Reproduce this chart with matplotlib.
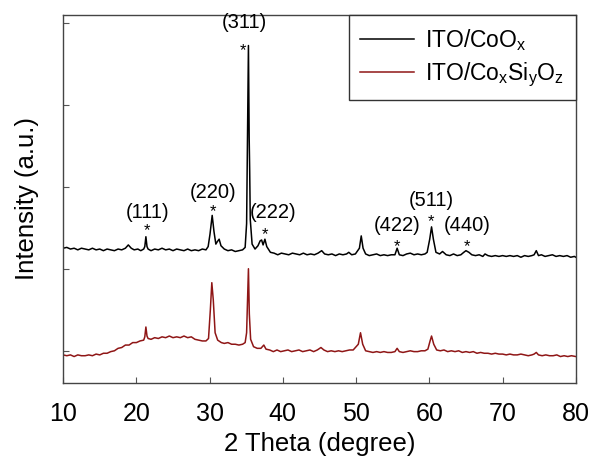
import matplotlib
matplotlib.use("Agg")
import matplotlib.pyplot as plt

plt.rcParams['font.family'] = ['Liberation Sans', 'DejaVu Sans']
plt.rcParams['mathtext.fontset'] = 'custom'
plt.rcParams['mathtext.rm'] = 'Liberation Sans'

# ITO/CoOx trace: (2theta, intensity a.u.)
coo_points = [
    (10, 1.25), (10.5, 1.26), (11, 1.24), (11.5, 1.25), (12, 1.23), (12.5, 1.25), (13, 1.24), (13.5, 1.23),
    (14, 1.25), (14.5, 1.23), (15, 1.24), (15.5, 1.22), (16, 1.24), (16.5, 1.23), (17, 1.22), (17.5, 1.24),
    (18, 1.23), (18.5, 1.25), (18.9, 1.29), (19.3, 1.25), (19.7, 1.23), (20.2, 1.24), (20.6, 1.22), (21.0, 1.24),
    (21.15, 1.27), (21.3, 1.39), (21.45, 1.27), (21.6, 1.24), (22, 1.22), (22.5, 1.24), (23, 1.23), (23.5, 1.25),
    (24, 1.23), (24.5, 1.24), (25, 1.22), (25.5, 1.24), (26, 1.23), (26.5, 1.22), (27, 1.24), (27.5, 1.22),
    (28, 1.23), (28.5, 1.22), (29, 1.24), (29.5, 1.23), (29.8, 1.27), (30.05, 1.42), (30.35, 1.65), (30.6, 1.45),
    (30.85, 1.30), (31.05, 1.33), (31.3, 1.36), (31.55, 1.28), (32, 1.24), (32.5, 1.22), (33, 1.23), (33.5, 1.21),
    (34, 1.22), (34.5, 1.23), (34.85, 1.26), (35.05, 1.55), (35.2, 2.9), (35.3, 3.72), (35.4, 2.6), (35.47, 2.2),
    (35.55, 1.6), (35.8, 1.30), (36.2, 1.24), (36.6, 1.28), (36.9, 1.34), (37.1, 1.35), (37.3, 1.29), (37.55, 1.36),
    (37.8, 1.27), (38.3, 1.20), (38.8, 1.19), (39.3, 1.17), (39.8, 1.19), (40.3, 1.18), (40.8, 1.17), (41.3, 1.19),
    (41.8, 1.18), (42.3, 1.17), (42.8, 1.19), (43.3, 1.17), (43.8, 1.18), (44.3, 1.17), (44.8, 1.19), (45.3, 1.22),
    (45.7, 1.18), (46.2, 1.17), (46.7, 1.18), (47.2, 1.16), (47.7, 1.18), (48.2, 1.17), (48.7, 1.18), (49.0, 1.20),
    (49.4, 1.17), (49.9, 1.18), (50.45, 1.25), (50.7, 1.40), (50.95, 1.25), (51.3, 1.18), (51.8, 1.16), (52.3, 1.17),
    (52.8, 1.18), (53.3, 1.16), (53.8, 1.17), (54.3, 1.16), (54.8, 1.17), (55.3, 1.17), (55.6, 1.25), (55.9, 1.17),
    (56.4, 1.16), (56.9, 1.18), (57.4, 1.19), (57.9, 1.17), (58.4, 1.18), (58.9, 1.17), (59.4, 1.18), (59.7, 1.20),
    (60.05, 1.36), (60.3, 1.51), (60.55, 1.36), (60.9, 1.20), (61.4, 1.18), (61.8, 1.21), (62.3, 1.17), (62.8, 1.16),
    (63.3, 1.18), (63.8, 1.16), (64.3, 1.17), (64.7, 1.20), (65.0, 1.22), (65.4, 1.20), (65.8, 1.17), (66.3, 1.16),
    (66.8, 1.17), (67.3, 1.15), (67.6, 1.18), (68, 1.16), (68.5, 1.15), (69, 1.16), (69.5, 1.15), (70, 1.16),
    (70.5, 1.15), (71, 1.16), (71.5, 1.15), (72, 1.16), (72.5, 1.14), (73, 1.16), (73.5, 1.15), (74, 1.16),
    (74.3, 1.17), (74.6, 1.22), (74.9, 1.16), (75.3, 1.17), (75.8, 1.15), (76.3, 1.16), (76.8, 1.17), (77.3, 1.15),
    (77.8, 1.16), (78.3, 1.15), (78.8, 1.16), (79.3, 1.14), (79.8, 1.15), (80, 1.14),
]

# ITO/CoxSiyOz trace: (2theta, intensity a.u.)
cosio_points = [
    (10, -0.05), (10.5, -0.06), (11, -0.05), (11.5, -0.07), (12, -0.05), (12.5, -0.06), (13, -0.06), (13.5, -0.05),
    (14, -0.06), (14.5, -0.04), (15, -0.05), (15.5, -0.03), (16, -0.03), (16.5, -0.01), (17, 0.00), (17.5, 0.03),
    (18, 0.04), (18.5, 0.07), (19, 0.07), (19.5, 0.10), (20, 0.10), (20.5, 0.12), (21, 0.13), (21.15, 0.17),
    (21.3, 0.29), (21.45, 0.18), (21.6, 0.15), (22, 0.14), (22.5, 0.16), (23, 0.15), (23.5, 0.17), (24, 0.16),
    (24.5, 0.18), (25, 0.16), (25.5, 0.17), (26, 0.16), (26.5, 0.18), (27, 0.16), (27.5, 0.17), (28, 0.14),
    (28.5, 0.13), (29, 0.12), (29.5, 0.12), (29.85, 0.15), (30.1, 0.50), (30.3, 0.83), (30.5, 0.62), (30.75, 0.22),
    (31.1, 0.13), (31.6, 0.10), (32, 0.09), (32.5, 0.10), (33, 0.08), (33.5, 0.08), (34, 0.07), (34.5, 0.08),
    (34.85, 0.10), (35.05, 0.22), (35.2, 0.70), (35.3, 1.00), (35.42, 0.45), (35.6, 0.14), (36, 0.05), (36.5, 0.03),
    (37, 0.03), (37.4, 0.07), (37.7, 0.02), (38.2, 0.01), (38.7, -0.01), (39.2, 0.01), (39.7, -0.01), (40.2, 0.00),
    (40.7, 0.01), (41.2, -0.01), (41.7, 0.00), (42.2, 0.01), (42.7, -0.01), (43.2, 0.00), (43.7, 0.01), (44.2, -0.01),
    (44.7, 0.01), (45.2, 0.04), (45.6, 0.01), (46.1, -0.01), (46.6, 0.00), (47.1, -0.01), (47.6, 0.00), (48.1, -0.01),
    (48.6, 0.00), (49.1, 0.01), (49.6, 0.01), (50.3, 0.08), (50.6, 0.22), (50.9, 0.08), (51.3, 0.00), (51.8, -0.01),
    (52.3, -0.02), (52.8, -0.01), (53.3, -0.02), (53.8, -0.01), (54.3, -0.02), (54.8, -0.02), (55.3, -0.01), (55.6, 0.03),
    (55.9, -0.01), (56.4, -0.02), (56.9, -0.01), (57.4, 0.00), (57.9, -0.01), (58.4, -0.01), (58.9, 0.00), (59.4, 0.00),
    (59.8, 0.02), (60.1, 0.12), (60.3, 0.18), (60.6, 0.08), (61, 0.01), (61.5, 0.00), (62, 0.01), (62.5, -0.01),
    (63, 0.00), (63.5, -0.01), (64, 0.00), (64.5, -0.02), (65, -0.01), (65.5, -0.02), (66, -0.01), (66.5, -0.03),
    (67, -0.02), (67.5, -0.03), (68, -0.03), (68.5, -0.04), (69, -0.03), (69.5, -0.04), (70, -0.04), (70.5, -0.05),
    (71, -0.04), (71.5, -0.05), (72, -0.05), (72.5, -0.04), (73, -0.05), (73.5, -0.06), (74, -0.05), (74.3, -0.04),
    (74.6, -0.02), (74.9, -0.05), (75.4, -0.06), (75.9, -0.05), (76.4, -0.06), (76.9, -0.06), (77.4, -0.05), (77.9, -0.07),
    (78.4, -0.06), (78.9, -0.07), (79.4, -0.06), (80, -0.07),
]

coo_x = [p[0] for p in coo_points]
coo_y = [p[1] for p in coo_points]
cosio_x = [p[0] for p in cosio_points]
cosio_y = [p[1] for p in cosio_points]

# peak labels: text, label position, star position
hkl_labels = ['(111)', '(220)', '(311)', '(222)', '(422)', '(511)', '(440)']
label_x = [21.5, 30.5, 34.7, 38.7, 55.6, 60.2, 65.1]
label_y = [1.69, 1.93, 4.0, 1.69, 1.53, 1.83, 1.53]
star_x = [21.5, 30.5, 34.6, 37.6, 55.6, 60.2, 65.1]
star_y = [1.46, 1.70, 3.66, 1.42, 1.27, 1.58, 1.27]

xticks = [10, 20, 30, 40, 50, 60, 70, 80]
yticks = [0, 1, 2, 3, 4]

fig = plt.figure(figsize=(5.9, 4.59), dpi=100)
ax = fig.add_axes([0.107, 0.166, 0.869, 0.801])

ax.plot(coo_x, coo_y, color='black', lw=1.1, label=r'ITO/CoO$_\mathregular{x}$')
ax.plot(cosio_x, cosio_y, color='#8f1616', lw=1.1,
        label=r'ITO/Co$_\mathregular{x}$Si$_\mathregular{y}$O$_\mathregular{z}$')

for t, lx, ly, sx, sy in zip(hkl_labels, label_x, label_y, star_x, star_y):
    ax.text(lx, ly, t, ha='center', va='center', fontsize=14.5)
    ax.text(sx, sy, '*', ha='center', va='center', fontsize=12)

ax.set_xlim(10, 80)
ax.set_ylim(-0.39, 4.09)
ax.set_xticks(xticks)
ax.set_yticks(yticks)
ax.set_yticklabels([])
ax.tick_params(axis='both', direction='in', length=4, width=0.8, color='#555555')
ax.tick_params(axis='x', labelsize=18, pad=14)
for s in ax.spines.values():
    s.set_color('#444444')
    s.set_linewidth(1.0)

ax.set_xlabel('2 Theta (degree)', fontsize=18.5, labelpad=4)
ax.set_ylabel('Intensity (a.u.)', fontsize=18.5, labelpad=14)

leg = ax.legend(loc='upper right', borderaxespad=0, fancybox=False, framealpha=1,
                edgecolor='#333333', fontsize=16.5, handlelength=2.35, handletextpad=0.5,
                borderpad=0.5, labelspacing=0.35)
leg.get_frame().set_linewidth(1.0)

fig.savefig('out.png', dpi=100)
